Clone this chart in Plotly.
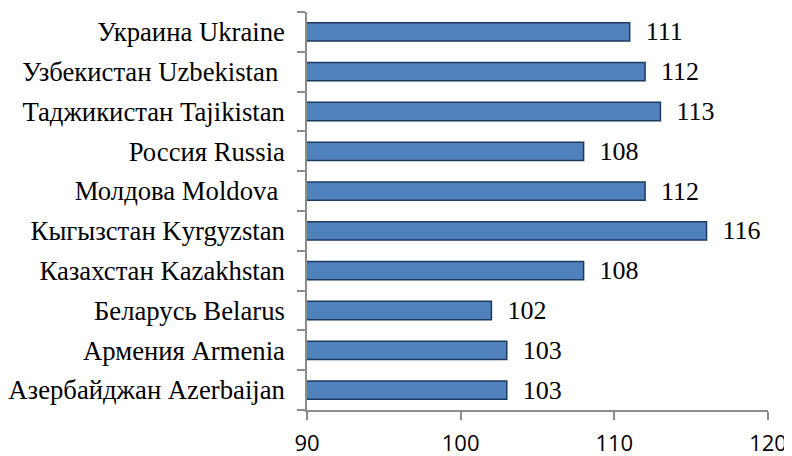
import plotly.graph_objects as go

countries = [
    "Азербайджан Azerbaijan",
    "Армения Armenia",
    "Беларусь Belarus",
    "Казахстан Kazakhstan",
    "Кыгызстан Kyrgyzstan",
    "Молдова Moldova ",
    "Россия Russia",
    "Таджикистан Tajikistan",
    "Узбекистан Uzbekistan ",
    "Украина Ukraine",
]
values = [103, 103, 102, 108, 116, 112, 108, 113, 112, 111]
x_ticks = [90, 100, 110, 120]

SERIF = "Liberation Serif, Times New Roman, DejaVu Serif, serif"

fig = go.Figure(go.Bar(
    y=countries,
    x=values,
    orientation="h",
    texttemplate="  %{x}",
    textposition="outside",
    constraintext="none",
    textfont=dict(family=SERIF, size=26, color="black"),
    cliponaxis=False,
    marker=dict(color="#4F81BD", line=dict(color="#1F3A60", width=1.5)),
    width=0.46,
))

# page body has an 8px margin, so the figure is sized/offset accordingly
fig.update_layout(
    width=784, height=448,
    margin=dict(l=299, r=24, t=4, b=46),
    plot_bgcolor="white", paper_bgcolor="white",
    showlegend=False,
    font=dict(family=SERIF),
)
fig.update_xaxes(
    range=[90, 120],
    tickvals=x_ticks,
    ticktext=[str(t) for t in x_ticks],
    showgrid=False, zeroline=False,
    showline=True, linecolor="#8c8c8c", linewidth=1.5,
    ticks="outside", ticklen=8, tickcolor="#8c8c8c", tickwidth=1.5,
    tickfont=dict(family="Open Sans", size=22, color="black"),
    ticklabelstandoff=5,
    automargin=False,
)
fig.update_yaxes(
    categoryorder="array", categoryarray=countries,
    showgrid=False, zeroline=False,
    showline=True, linecolor="#8c8c8c", linewidth=1.5,
    ticks="outside", ticklen=8, tickcolor="#8c8c8c", tickwidth=1.5,
    tickson="boundaries",
    tickfont=dict(family=SERIF, size=26.7, color="black"),
    ticklabelstandoff=15,
    automargin=False,
    range=[-0.5, 9.5],
)

fig.write_html("out.html")
